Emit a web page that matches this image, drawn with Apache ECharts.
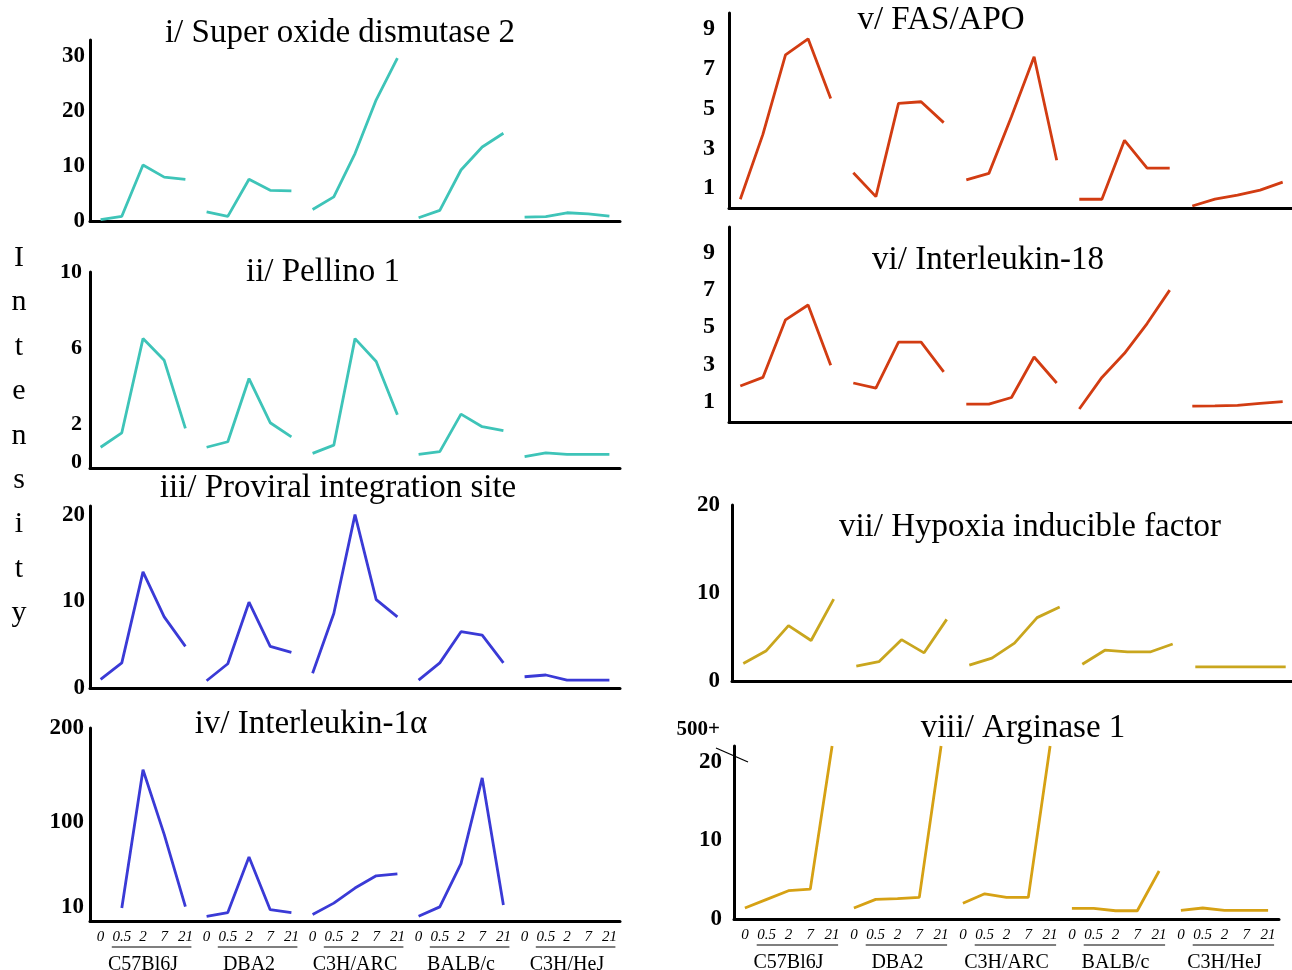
<!DOCTYPE html>
<html><head><meta charset="utf-8">
<script src="https://cdn.jsdelivr.net/npm/echarts@6/dist/echarts.min.js"></script>
<style>html,body{margin:0;padding:0;background:#fff}#c{width:1292px;height:970px}</style>
</head><body><div id="c"></div>
<script>
// ---------- DATA ----------
const timepoints = ['0', '0.5', '2', '7', '21'];
const strains = ['C57Bl6J', 'DBA2', 'C3H/ARC', 'BALB/c', 'C3H/HeJ'];

// rows = strains, columns = time points
const sod2 = [
  [0.25, 0.85, 10.2, 8.0, 7.6],
  [1.65, 0.85, 7.6, 5.6, 5.5],
  [2.1, 4.4, 12.3, 22.1, 29.7],
  [0.6, 1.95, 9.3, 13.5, 16.0],
  [0.7, 0.8, 1.5, 1.3, 0.9]
];
const pellino1 = [
  [0.79, 1.55, 6.5, 5.36, 1.78],
  [0.79, 1.08, 4.4, 2.08, 1.34],
  [0.47, 0.9, 6.5, 5.3, 2.5],
  [0.42, 0.56, 2.53, 1.87, 1.66],
  [0.3, 0.5, 0.42, 0.42, 0.42]
];
const proviral = [
  [1.0, 2.9, 13.4, 8.2, 4.8],
  [0.84, 2.8, 9.9, 4.8, 4.1],
  [1.7, 8.6, 20.0, 10.2, 8.2],
  [0.9, 2.9, 6.5, 6.1, 2.9],
  [1.3, 1.5, 0.9, 0.9, 0.9]
];
const il1a = [
  [null, 8.9, 155.6, 87, 10.3],
  [0, 4, 63, 7, 4],
  [2, 14, 30, 43, 45],
  [0, 10, 56, 147, 12],
  [null, null, null, null, null]
];
const fasApo = [
  [0.44, 3.7, 7.7, 8.5, 5.5],
  [1.77, 0.57, 5.26, 5.34, 4.29],
  [1.41, 1.74, 4.6, 7.6, 2.4],
  [0.44, 0.44, 3.4, 2.0, 2.0],
  [0.1, 0.45, 0.65, 0.9, 1.3]
];
const il18 = [
  [1.84, 2.3, 5.4, 6.2, 2.96],
  [2.0, 1.72, 4.2, 4.2, 2.6],
  [0.86, 0.86, 1.22, 3.4, 2.0],
  [0.6, 2.3, 3.6, 5.2, 7.0],
  [0.75, 0.77, 0.8, 0.9, 1.0]
];
const hif = [
  [2.0, 3.4, 6.3, 4.6, 9.3],
  [1.7, 2.2, 4.7, 3.2, 7.0],
  [1.8, 2.6, 4.3, 7.2, 8.4],
  [1.9, 3.5, 3.3, 3.3, 4.2],
  [1.6, 1.6, 1.6, 1.6, 1.6]
];
const arg1 = [
  [1.4, 2.5, 3.6, 3.8, 22],
  [1.4, 2.5, 2.6, 2.75, 22],
  [2.0, 3.2, 2.75, 2.75, 22],
  [1.35, 1.35, 1.05, 1.05, 6.1],
  [1.1, 1.4, 1.1, 1.1, 1.1]
];

// y tick labels shown on each panel
const sod2Ticks = [0, 10, 20, 30];
const pellinoTicks = [0, 2, 6, 10];
const proviralTicks = [0, 10, 20];
const il1aTicks = [10, 100, 200];
const fasTicks = [1, 3, 5, 7, 9];
const il18Ticks = [1, 3, 5, 7, 9];
const hifTicks = [0, 10, 20];
const arg1Ticks = [0, 10, 20];

const titles = [
  'i/ Super oxide dismutase 2', 'ii/ Pellino 1', 'iii/ Proviral integration site',
  'iv/ Interleukin-1\u03b1', 'v/ FAS/APO', 'vi/ Interleukin-18',
  'vii/ Hypoxia inducible factor', 'viii/ Arginase 1'
];

// ---------- PANEL CONFIG (styles / layout) ----------
const SERIF = '"Liberation Serif","DejaVu Serif",serif';
const panels = [
  {data: sod2, ticks: sod2Ticks, color: '#3ec4b8', min: 0, max: 33, step: 1,
   grid: {left: 90, top: 40, width: 530, height: 181}, tpos: [340, 33], lab: {size: 23, bold: true, margin: 5}},
  {data: pellino1, ticks: pellinoTicks, color: '#3ec4b8', min: -0.3, max: 10, step: 0.1,
   grid: {left: 90, top: 272, width: 530, height: 196}, tpos: [323, 272], lab: {size: 22, bold: true, margin: 8}},
  {data: proviral, ticks: proviralTicks, color: '#3a3ad6', min: 0, max: 21, step: 1,
   grid: {left: 90, top: 506, width: 530, height: 182}, tpos: [338, 488], lab: {size: 23, bold: true, margin: 5}},
  {data: il1a, ticks: il1aTicks, color: '#3a3ad6', min: -5, max: 200, step: 5,
   grid: {left: 90, top: 728, width: 530, height: 193}, tpos: [311, 724], lab: {size: 23, bold: true, margin: 6}, xlabels: true},
  {data: fasApo, ticks: fasTicks, color: '#d23c12', min: 0, max: 9.8, step: 1,
   grid: {left: 729, top: 13, width: 565, height: 195}, tpos: [941, 20], lab: {size: 24, bold: true, margin: 14}},
  {data: il18, ticks: il18Ticks, color: '#d23c12', min: -0.1, max: 10.4, step: 0.1,
   grid: {left: 729, top: 227, width: 565, height: 195}, tpos: [988, 260], lab: {size: 24, bold: true, margin: 14}},
  {data: hif, ticks: hifTicks, color: '#c9a61e', min: 0, max: 20, step: 1,
   grid: {left: 732, top: 505, width: 565, height: 176}, tpos: [1030, 527], lab: {size: 23, bold: true, margin: 12}},
  {data: arg1, ticks: arg1Ticks, color: '#d6a114', min: 0, max: 22, step: 1,
   grid: {left: 734, top: 746, width: 545, height: 173}, tpos: [1023, 728], lab: {size: 23, bold: true, margin: 12}, xlabels: true, breakName: '500+'}
];

// ---------- BUILD ----------
const cats = [];
strains.forEach(s => timepoints.forEach(t => cats.push(s + '|' + t)));

const option = {
  backgroundColor: '#fff',
  animation: false,
  title: [], grid: [], xAxis: [], yAxis: [], series: []
};

panels.forEach((p, i) => {
  option.grid.push(Object.assign({containLabel: false, outerBoundsMode: 'none'}, p.grid));
  option.title.push({
    text: titles[i], left: p.tpos[0], top: p.tpos[1] - 16, textAlign: 'center', padding: 0,
    textStyle: {fontFamily: SERIF, fontSize: 33, fontWeight: 'normal', color: '#000'}
  });
  option.xAxis.push({
    type: 'category', gridIndex: i, data: cats, boundaryGap: true,
    axisLine: {show: true, onZero: false, lineStyle: {color: '#000', width: 3}},
    axisTick: {show: false}, splitLine: {show: false},
    axisLabel: {
      show: !!p.xlabels, interval: 0, margin: 9, color: '#000',
      fontFamily: SERIF, fontStyle: 'italic', fontSize: 15,
      formatter: v => v.split('|')[1]
    }
  });
  const ticks = p.ticks;
  option.yAxis.push({
    type: 'value', gridIndex: i, min: p.min, max: p.max, interval: p.step,
    name: p.breakName || '', nameLocation: 'end', nameGap: 6,
    nameTextStyle: {fontFamily: SERIF, fontSize: 21, fontWeight: 'bold', color: '#000', align: 'right', padding: [0, 14, 0, 0]},
    axisLine: {show: true, onZero: false, lineStyle: {color: '#000', width: 3}},
    axisTick: {show: false}, splitLine: {show: false},
    axisLabel: {
      margin: p.lab.margin, color: '#000', fontFamily: SERIF, fontSize: p.lab.size,
      fontWeight: p.lab.bold ? 'bold' : 'normal',
      formatter: v => {
        const t = ticks.find(tt => Math.abs(tt - v) < 1e-6);
        return t === undefined ? '' : String(t);
      }
    }
  });
  p.data.forEach((row, s) => {
    const d = new Array(cats.length).fill(null);
    row.forEach((v, t) => { d[s * timepoints.length + t] = v; });
    option.series.push({
      type: 'line', xAxisIndex: i, yAxisIndex: i, data: d, name: titles[i] + ' ' + strains[s],
      symbol: 'none', connectNulls: false, silent: true,
      lineStyle: {color: p.color, width: 2.8}, itemStyle: {color: p.color}
    });
  });
});

// strain-name axes under bottom panels
panels.forEach((p, i) => {
  if (!p.xlabels) return;
  option.xAxis.push({
    type: 'category', gridIndex: i, data: strains, boundaryGap: true, position: 'bottom',
    axisLine: {show: false, onZero: false}, axisTick: {show: false}, splitLine: {show: false},
    axisLabel: {show: true, interval: 0, margin: 34, color: '#000', fontFamily: SERIF, fontSize: 20}
  });
});

// vertical "Intensity" axis title
option.title.push({
  text: 'I\nn\nt\ne\nn\ns\ni\nt\ny', left: 19, top: 236, textAlign: 'center', padding: 0,
  textStyle: {fontFamily: SERIF, fontSize: 30, fontWeight: 'normal', color: '#000', lineHeight: 44.4}
});

const chart = echarts.init(document.getElementById('c'), null, {renderer: 'canvas'});
chart.setOption(option);

// decorations: underline under "0.5 ... 21" and the axis-break mark
const graphics = [];
panels.forEach((p, i) => {
  if (!p.xlabels) return;
  const yBase = chart.convertToPixel({yAxisIndex: i}, p.min);
  strains.forEach(s => {
    const x1 = chart.convertToPixel({xAxisIndex: i}, s + '|' + timepoints[1]);
    const x2 = chart.convertToPixel({xAxisIndex: i}, s + '|' + timepoints[4]);
    graphics.push({type: 'line', silent: true,
      shape: {x1: x1 - 10, y1: yBase + 26, x2: x2 + 6, y2: yBase + 26},
      style: {stroke: '#000', lineWidth: 1.2}});
  });
  if (p.breakName) {
    const yTop = chart.convertToPixel({yAxisIndex: i}, p.max);
    const xAx = p.grid.left;
    graphics.push({type: 'line', silent: true,
      shape: {x1: xAx - 18, y1: yTop + 2, x2: xAx + 14, y2: yTop + 16},
      style: {stroke: '#000', lineWidth: 1.3}});
  }
});
chart.setOption({graphic: graphics});
</script>
</body></html>
